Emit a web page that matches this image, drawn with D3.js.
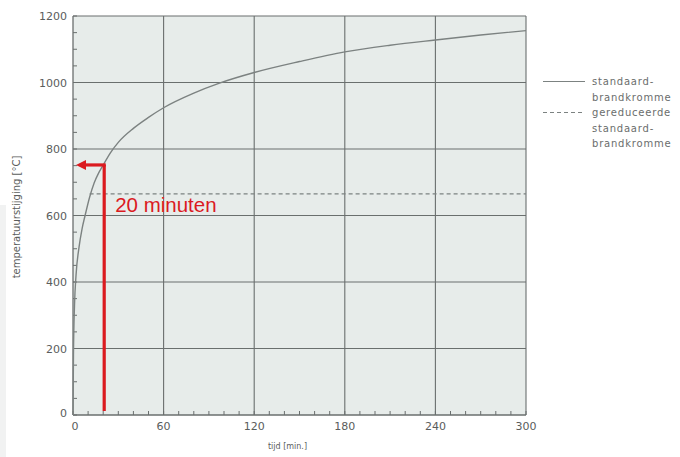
<!DOCTYPE html>
<html lang="nl">
<head>
<meta charset="UTF-8">
<title>Standaard-brandkromme</title>
<script src="https://d3js.org/d3.v7.min.js"></script>
<style>
  body { margin: 0; background: #ffffff; }
  text { font-family: "DejaVu Sans", sans-serif; }
</style>
</head>
<body>
<svg width="680" height="457"></svg>
<script>
// curve: time [min] and temperature [°C]
const curveTime = [0, 0.3, 1, 2, 4, 6, 8, 11, 14, 17, 20, 25, 30, 40, 50, 60, 80, 97, 120, 150, 180, 210, 240, 270, 300];
const curveTemp = [0, 180, 330, 420, 505, 560, 600, 655, 698, 728, 752, 790, 820, 862, 895, 924, 968, 998, 1030, 1063, 1092, 1112, 1128, 1143, 1156];

// reduced curve (dashed)
const reducedTime = [11, 300];
const reducedTemp = [665, 665];

// red marker at 20 minutes
const markTime = 20;
const markTemp = 752;

const xTicks = [0, 60, 120, 180, 240, 300];
const yTicks = [0, 200, 400, 600, 800, 1000, 1200];

const legendItems = [
  { dash: null, lines: ["standaard-", "brandkromme"] },
  { dash: "4,3", lines: ["gereduceerde", "standaard-", "brandkromme"] }
];

const svg = d3.select("svg");
const pLeft = 73, pRight = 526, pTop = 16, pBottom = 415;

const x = d3.scaleLinear().domain([0, 300]).range([pLeft, pRight]);
const y = d3.scaleLinear().domain([0, 1200]).range([pBottom, pTop]);

// faint strip at the left page edge
svg.append("rect").attr("x", 0).attr("y", 205).attr("width", 6).attr("height", 252)
  .attr("fill", "#f1f2f2");

// plot background
svg.append("rect")
  .attr("x", pLeft).attr("y", pTop)
  .attr("width", pRight - pLeft).attr("height", pBottom - pTop)
  .attr("fill", "#e7ecea");

// grid
const gridColor = "#6a6f6e";
svg.append("g").selectAll("line").data(xTicks.slice(1)).join("line")
  .attr("x1", d => x(d)).attr("x2", d => x(d))
  .attr("y1", pTop).attr("y2", pBottom)
  .attr("stroke", gridColor).attr("stroke-width", 1.1);
svg.append("g").selectAll("line").data(yTicks.slice(1)).join("line")
  .attr("x1", pLeft).attr("x2", pRight)
  .attr("y1", d => y(d)).attr("y2", d => y(d))
  .attr("stroke", gridColor).attr("stroke-width", 1.1);

// axes lines
svg.append("line").attr("x1", pLeft).attr("x2", pLeft).attr("y1", pTop).attr("y2", pBottom)
  .attr("stroke", gridColor).attr("stroke-width", 1.3);
svg.append("line").attr("x1", pLeft).attr("x2", pRight).attr("y1", pBottom).attr("y2", pBottom)
  .attr("stroke", gridColor).attr("stroke-width", 1.3);

// minor ticks, pointing inward
svg.append("g").selectAll("line").data(d3.range(0, 301, 10)).join("line")
  .attr("x1", d => x(d)).attr("x2", d => x(d))
  .attr("y1", pBottom).attr("y2", pBottom - 4)
  .attr("stroke", gridColor);
svg.append("g").selectAll("line").data(d3.range(0, 1201, 50)).join("line")
  .attr("x1", pLeft).attr("x2", pLeft + 4)
  .attr("y1", d => y(d)).attr("y2", d => y(d))
  .attr("stroke", gridColor);

// tick labels
svg.append("g").selectAll("text").data(xTicks).join("text")
  .attr("x", d => x(d) + (d === 0 ? 2 : 0)).attr("y", pBottom + 15)
  .attr("text-anchor", "middle")
  .attr("font-size", 11).attr("fill", "#5a5d5c")
  .text(d => d);
svg.append("g").selectAll("text").data(yTicks).join("text")
  .attr("x", pLeft - 6).attr("y", d => y(d) + 4 - (d === 0 ? 2 : 0))
  .attr("text-anchor", "end")
  .attr("font-size", 11).attr("fill", "#5a5d5c")
  .text(d => d);

// axis titles
svg.append("text")
  .attr("x", x(150) - 12).attr("y", 449)
  .attr("text-anchor", "middle")
  .attr("font-size", 8).attr("fill", "#5a5d5c")
  .text("tijd [min.]");
svg.append("text")
  .attr("transform", `translate(20, 217) rotate(-90)`)
  .attr("text-anchor", "middle")
  .attr("font-size", 10).attr("fill", "#5a5d5c")
  .text("temperatuurstijging [°C]");

// curves
const line = d3.line().x(d => x(d[0])).y(d => y(d[1])).curve(d3.curveMonotoneX);
svg.append("path")
  .datum(d3.zip(curveTime, curveTemp))
  .attr("d", line)
  .attr("fill", "none").attr("stroke", "#7c8281").attr("stroke-width", 1.4);
svg.append("path")
  .datum(d3.zip(reducedTime, reducedTemp))
  .attr("d", line)
  .attr("fill", "none").attr("stroke", "#7c8281").attr("stroke-width", 1.2)
  .attr("stroke-dasharray", "4,3");

// legend
const lg = svg.append("g");
const lineGap = 15.5;
let ly = 85;
legendItems.forEach(item => {
  lg.append("line")
    .attr("x1", 543).attr("x2", 585).attr("y1", ly - 3.5).attr("y2", ly - 3.5)
    .attr("stroke", "#7c8281").attr("stroke-width", 1.2)
    .attr("stroke-dasharray", item.dash);
  item.lines.forEach((t, i) => {
    lg.append("text")
      .attr("x", 592).attr("y", ly + i * lineGap)
      .style("font-size", "10px").style("letter-spacing", "0.8px")
      .attr("fill", "#6a6d6c")
      .text(t);
  });
  ly += item.lines.length * lineGap;
});

// red marker arrow
const red = "#db1a1f";
svg.append("line")
  .attr("x1", x(markTime) + 1).attr("x2", x(markTime) + 1)
  .attr("y1", pBottom - 4).attr("y2", y(markTemp))
  .attr("stroke", red).attr("stroke-width", 3.2);
svg.append("line")
  .attr("x1", x(markTime) + 2.6).attr("x2", x(0) + 10)
  .attr("y1", y(markTemp)).attr("y2", y(markTemp))
  .attr("stroke", red).attr("stroke-width", 3.2);
const ax = x(0) + 3, ay = y(markTemp);
svg.append("path")
  .attr("d", `M${ax},${ay} L${ax + 10},${ay - 5} L${ax + 10},${ay + 5} Z`)
  .attr("fill", red);
svg.append("text")
  .attr("x", x(markTime) + 12).attr("y", 212)
  .style("font-family", "'Liberation Sans', Arial, sans-serif")
  .style("font-size", "20.5px").attr("fill", red)
  .text("20 minuten");
</script>
</body>
</html>
